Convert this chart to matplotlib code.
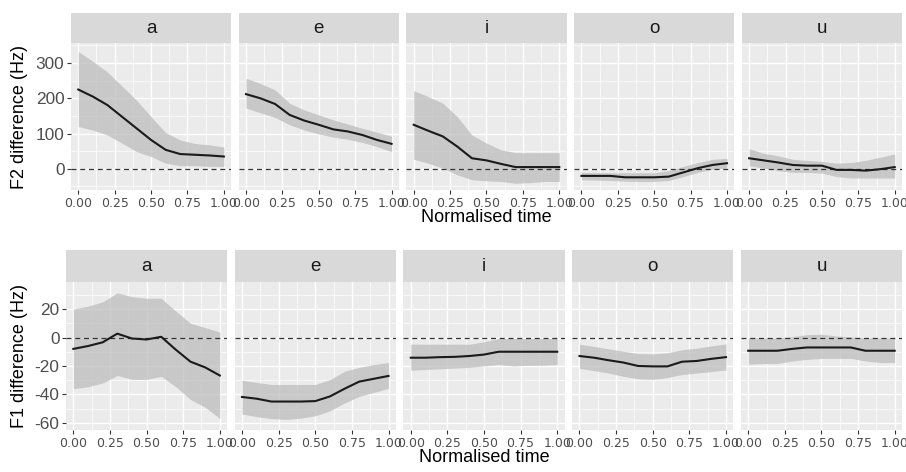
import numpy as np
import matplotlib
matplotlib.use("Agg")
import matplotlib.pyplot as plt

plt.rcParams["font.family"] = ["Liberation Sans", "DejaVu Sans"]

vowels = ["a", "e", "i", "o", "u"]
time = [0.0, 0.1, 0.2, 0.3, 0.4, 0.5, 0.6, 0.7, 0.8, 0.9, 1.0]

# F2 difference (Hz): fit, upper and lower bands per vowel
f2_fit = {
    "a": [225, 205, 181, 148, 115, 82, 54, 42, 40, 38, 35],
    "e": [212, 200, 184, 153, 137, 125, 112, 106, 96, 82, 71],
    "i": [125, 108, 92, 63, 30, 24, 14, 5, 5, 5, 5],
    "o": [-20, -20, -20, -24, -24, -24, -22, -10, 2, 11, 16],
    "u": [30, 24, 18, 11, 9, 9, -3, -3, -5, -1, 5],
}
f2_hi = {
    "a": [333, 305, 275, 235, 195, 148, 103, 82, 72, 68, 62],
    "e": [257, 242, 224, 186, 167, 153, 139, 127, 115, 104, 93],
    "i": [222, 205, 186, 148, 96, 73, 54, 46, 46, 46, 46],
    "o": [-10, -11, -11, -11, -11, -11, -5, 7, 18, 27, 30],
    "u": [57, 44, 37, 27, 24, 21, 16, 18, 24, 33, 42],
}
f2_lo = {
    "a": [120, 110, 96, 73, 49, 35, 16, 9, 9, 7, 7],
    "e": [172, 159, 146, 125, 110, 99, 90, 84, 75, 63, 49],
    "i": [27, 16, 2, -17, -31, -34, -36, -41, -39, -36, -36],
    "o": [-31, -32, -33, -35, -36, -36, -33, -22, -10, -1, 2],
    "u": [9, 2, -5, -10, -10, -12, -22, -26, -26, -26, -26],
}

# F1 difference (Hz)
f1_fit = {
    "a": [-8, -6, -3.4, 2.7, -0.7, -1.4, 0.5, -8.6, -17, -21, -26.7],
    "e": [-41.8, -43, -45, -45, -45, -44.7, -41.4, -36, -31, -29, -27],
    "i": [-14.2, -14.2, -13.8, -13.6, -13, -12, -10, -10, -10, -10, -10],
    "o": [-13, -14.2, -16, -17.6, -20, -20.3, -20.3, -17, -16.5, -15, -13.8],
    "u": [-9.3, -9.3, -9.3, -8, -7, -7, -7, -7, -9.3, -9.3, -9.3],
}
f1_hi = {
    "a": [20, 22, 25, 31.4, 28.7, 27.6, 27.6, 18.5, 10, 7, 3.8],
    "e": [-30, -31.6, -33, -33, -33, -33, -29.6, -23.7, -21, -19, -17.6],
    "i": [-4.7, -4.7, -4.7, -4.7, -4.7, -3, -0.7, -0.7, -0.7, -0.7, -0.7],
    "o": [-4.7, -6.3, -8, -9.7, -11.3, -11.5, -10.8, -8.6, -7.5, -5.9, -4.5],
    "u": [-0.2, -0.2, -0.2, 0.5, 2, 2.3, 1.1, 0.5, -0.2, -0.2, -0.2],
}
f1_lo = {
    "a": [-36, -34.6, -32, -26.7, -29.4, -29.4, -27.3, -34.6, -43.6, -49, -57],
    "e": [-53.8, -55.6, -57, -57.6, -56.7, -55, -51.5, -46, -41.4, -38.6, -35.7],
    "i": [-23, -22.5, -22, -21.5, -21, -20, -19, -20, -19.5, -19.5, -19],
    "o": [-21.7, -23.3, -25, -27.3, -29, -29.4, -28.2, -26, -25, -24, -22.8],
    "u": [-18.8, -18.3, -18.3, -16.5, -15.4, -14.7, -14.7, -14.7, -16.5, -17.6, -17.6],
}

x_ticks = [0, 0.25, 0.5, 0.75, 1.0]
x_labels = ["0.00", "0.25", "0.50", "0.75", "1.00"]

W, H = 906, 472
fig = plt.figure(figsize=(W / 100, H / 100), dpi=100)

PANEL = "#EBEBEB"
STRIP = "#D9D9D9"
TICKC = "#4D4D4D"


def px_axes(x0, y0, x1, y1):
    return fig.add_axes([x0 / W, 1 - y1 / H, (x1 - x0) / W, (y1 - y0) / H])


def draw_row(left, right, strip_top, top, bottom, fit, hi, lo, ylim, yticks,
             yminor, ylabel, xtitle_y):
    gap = 7.6
    pw = (right - left - 4 * gap) / 5
    for i, v in enumerate(vowels):
        x0 = left + i * (pw + gap)
        x1 = x0 + pw
        st = px_axes(x0, strip_top, x1, top)
        st.set_facecolor(STRIP)
        st.set_xticks([])
        st.set_yticks([])
        for s in st.spines.values():
            s.set_visible(False)
        st.text(0.5, 0.47, v, ha="center", va="center", fontsize=13.5,
                color="#1A1A1A", transform=st.transAxes)

        ax = px_axes(x0, top, x1, bottom)
        ax.set_facecolor(PANEL)
        for s in ax.spines.values():
            s.set_visible(False)
        ax.set_xlim(-0.05, 1.05)
        ax.set_ylim(*ylim)
        ax.set_xticks(x_ticks)
        ax.set_xticks([0.125, 0.375, 0.625, 0.875], minor=True)
        ax.set_yticks(yticks)
        ax.set_yticks(yminor, minor=True)
        ax.grid(which="major", color="white", lw=1.0)
        ax.grid(which="minor", color="white", lw=0.5)
        ax.set_axisbelow(True)
        ax.tick_params(which="minor", length=0)
        ax.tick_params(which="major", length=2.75, width=0.8, color="#333333",
                       pad=2)
        ax.set_xticklabels(x_labels, fontsize=9, color=TICKC,
                           family="DejaVu Sans")
        if i == 0:
            ax.set_yticklabels([str(t) for t in yticks], fontsize=12.4,
                               color=TICKC)
        else:
            ax.tick_params(axis="y", length=0, labelleft=False)
        ax.fill_between(time, lo[v], hi[v], color="#BDBDBD", alpha=0.75, lw=0)
        ax.axhline(0, color="#333333", lw=0.9, ls=(0, (4, 3)))
        ax.plot(time, fit[v], color="#1A1A1A", lw=1.5)
    fig.text((left + right) / 2 / W, 1 - xtitle_y / H, "Normalised time",
             ha="center", va="center", fontsize=13, color="black")
    fig.text(20 / W, 1 - (top + bottom) / 2 / H, ylabel, rotation=90,
             ha="center", va="center", fontsize=13, color="black")


draw_row(71, 902, 13, 43, 190, f2_fit, f2_hi, f2_lo, (-60, 357),
         [0, 100, 200, 300], [-50, 50, 150, 250, 350], "F2 difference (Hz)", 218)
draw_row(66, 902, 250, 282, 430, f1_fit, f1_hi, f1_lo, (-65, 39),
         [-60, -40, -20, 0, 20], [-50, -30, -10, 10, 30], "F1 difference (Hz)", 458)

fig.savefig("out.png", dpi=100, facecolor="white")
